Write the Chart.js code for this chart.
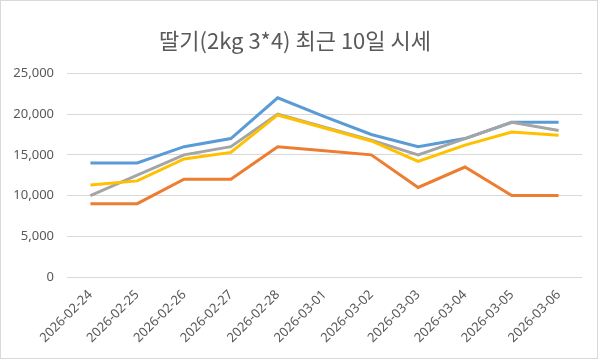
<!DOCTYPE html>
<html>
<head>
<meta charset="utf-8">
<script src="https://cdn.jsdelivr.net/npm/chart.js@4.4.0/dist/chart.umd.min.js"></script>
<style>
  html, body { margin: 0; padding: 0; background: #fff; }
  #wrap { width: 600px; height: 360px; }
</style>
</head>
<body>
<div id="wrap"><canvas id="chart" width="600" height="360"></canvas></div>
<script>
  // 날짜 (x축)
  const dates = ['2026-02-24', '2026-02-25', '2026-02-26', '2026-02-27', '2026-02-28',
    '2026-03-01', '2026-03-02', '2026-03-03', '2026-03-04', '2026-03-05', '2026-03-06'];

  // 시리즈별 가격
  const blueVals   = [14000, 14000, 16000, 17000, 22000, 19700, 17500, 16000, 17000, 19000, 19000];
  const orangeVals = [9000, 9000, 12000, 12000, 16000, 15500, 15000, 11000, 13500, 10000, 10000];
  const grayVals   = [10000, 12500, 15000, 16000, 20000, 18400, 16800, 15000, 17000, 19000, 18000];
  const yellowVals = [11300, 11800, 14500, 15300, 19900, 18300, 16700, 14200, 16200, 17800, 17400];

  const yTicks = [0, 5000, 10000, 15000, 20000, 25000];

  const txt = '#595959';
  const grid = '#d9d9d9';

  // 차트 테두리
  const borderPlugin = {
    id: 'chartBorder',
    beforeDraw(chart) {
      const c = chart.ctx;
      c.save();
      c.fillStyle = '#fff';
      c.fillRect(0, 0, chart.width, chart.height);
      c.strokeStyle = grid;
      c.lineWidth = 1;
      c.strokeRect(0.5, 0.5, chart.width - 3, chart.height - 2);
      c.restore();
    }
  };

  function line(data, color, order) {
    return {
      data,
      borderColor: color,
      backgroundColor: color,
      borderWidth: 3,
      pointRadius: 0,
      tension: 0,
      fill: false,
      order
    };
  }

  new Chart(document.getElementById('chart'), {
    type: 'line',
    data: {
      labels: dates,
      datasets: [
        line(blueVals, '#5b9bd5', 4),
        line(orangeVals, '#ed7d31', 3),
        line(grayVals, '#a5a5a5', 2),
        line(yellowVals, '#ffc000', 1)
      ]
    },
    options: {
      responsive: false,
      animation: false,
      layout: { padding: { left: 8, right: 18, top: 0, bottom: 0 } },
      plugins: {
        legend: { display: false },
        tooltip: { enabled: false },
        title: {
          display: true,
          text: '딸기(2kg 3*4) 최근 10일 시세',
          color: txt,
          font: { family: '"Noto Sans CJK KR", "Noto Sans"', size: 22, weight: 'normal' },
          padding: { top: 27, bottom: 20 }
        }
      },
      scales: {
        x: {
          offset: true,
          grid: { display: false },
          border: { display: false },
          ticks: {
            color: txt,
            font: { family: '"Noto Sans"', size: 13 },
            minRotation: 45,
            maxRotation: 45,
            autoSkip: false,
            padding: 2
          },
          afterFit(scale) { scale.height = 83; }
        },
        y: {
          min: 0,
          max: 25000,
          afterBuildTicks(scale) { scale.ticks = yTicks.map(v => ({ value: v })); },
          grid: { color: grid, drawTicks: false },
          border: { display: false },
          ticks: {
            color: txt,
            font: { family: '"Noto Sans"', size: 13 },
            padding: 13,
            callback: (v) => v.toLocaleString('en-US')
          },
          afterFit(scale) { scale.width = 59; }
        }
      }
    },
    plugins: [borderPlugin]
  });
</script>
</body>
</html>
